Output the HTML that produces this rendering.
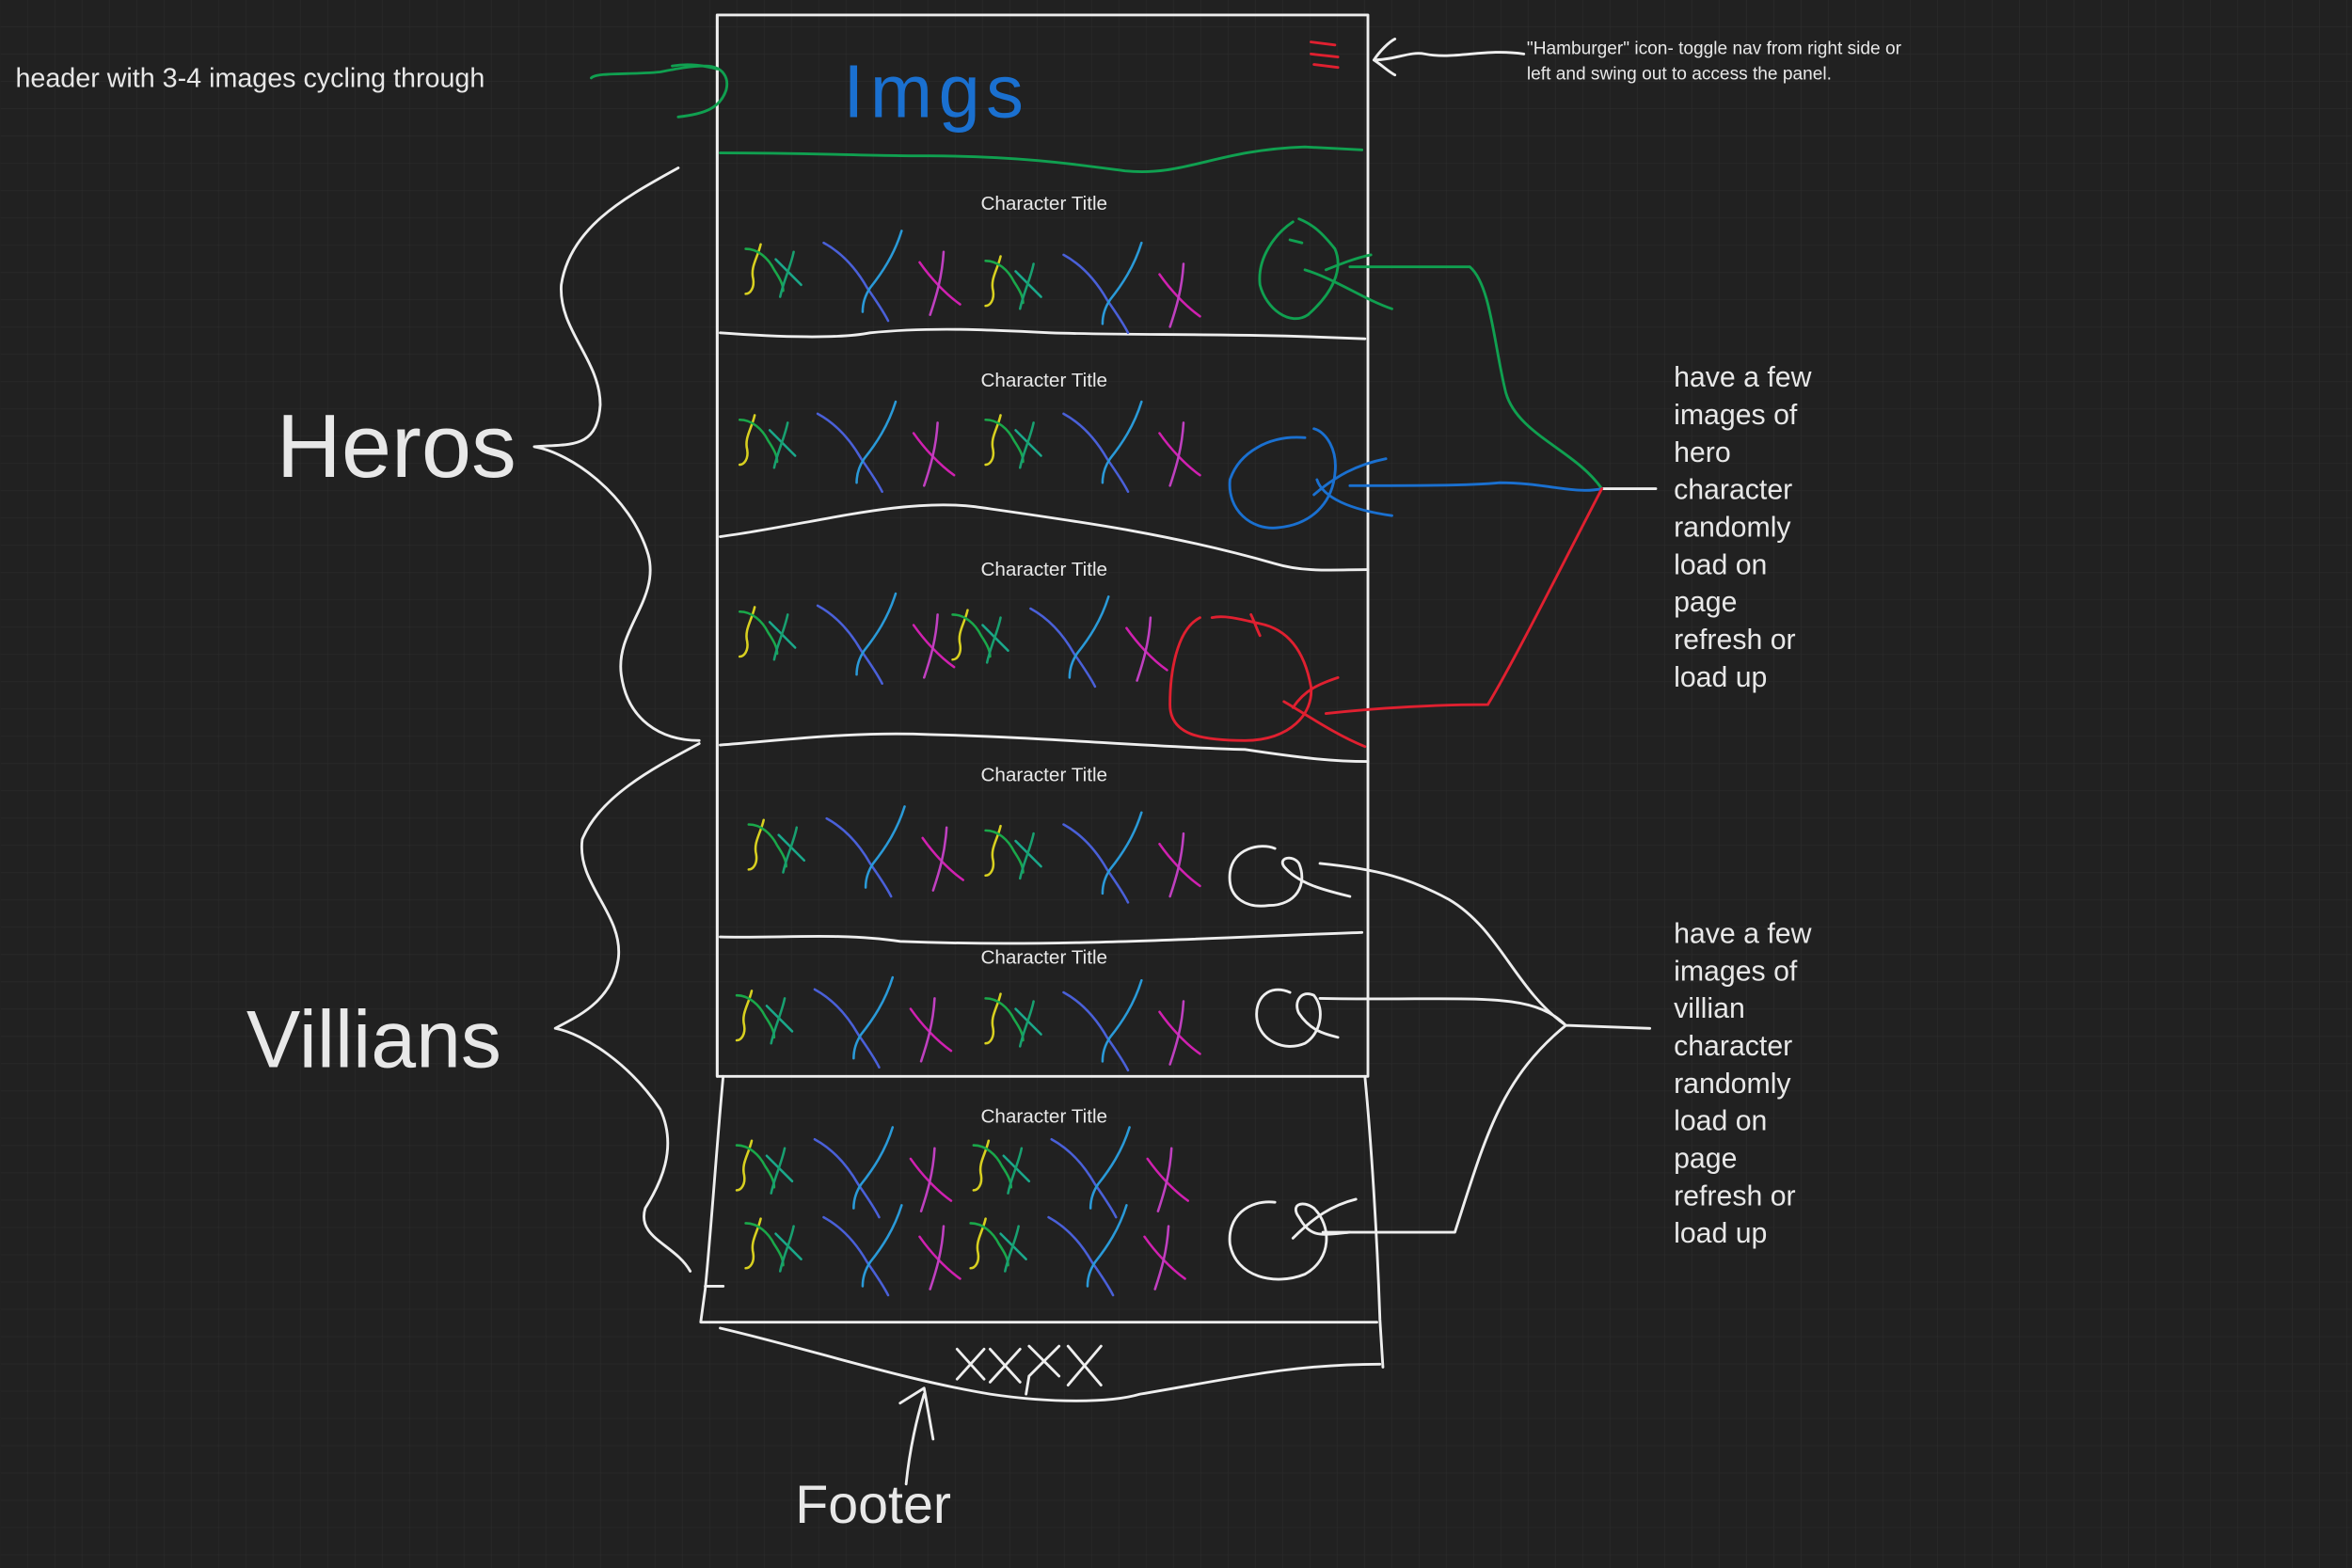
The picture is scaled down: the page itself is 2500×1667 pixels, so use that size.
<!DOCTYPE html>
<html><head><meta charset="utf-8"><style>
html,body{margin:0;padding:0;background:#212121;}
svg{display:block;}
text{font-family:"Liberation Sans",sans-serif;fill:#e8e8e8;}
</style></head><body>
<svg width="2500" height="1667" viewBox="0 0 1568 1046" xmlns="http://www.w3.org/2000/svg">
<defs>
<pattern id="grid" width="18.2" height="18.2" patternUnits="userSpaceOnUse">
<path d="M18.2 0V18.2H0" fill="none" stroke="#2b2b2b" stroke-width="0.8"/>
</pattern>
<g id="sq" fill="none" stroke-width="1.6" stroke-linecap="round">
<path d="M507,163 C505,172 500,178 502,186 C503,192 500,196 497,196" stroke="#d8d020"/>
<path d="M497,166 C505,166 512,172 516,180 C520,186 522,190 522,194" stroke="#1aa84a"/>
<path d="M517,173 C524,180 530,186 534,190" stroke="#1aa88a"/>
<path d="M529,168 C527,178 522,188 520,198" stroke="#18a070"/>
<path d="M549,162 C560,168 570,178 578,192 C585,202 590,210 592,214" stroke="#4a60d8"/>
<path d="M601,154 C596,170 588,182 580,192 C576,198 575,204 575,208" stroke="#2a9ad8"/>
<path d="M613,175 C620,185 630,196 640,203" stroke="#d020b0"/>
<path d="M629,168 C628,185 624,198 620,210" stroke="#c040c0"/>
</g>
</defs>
<rect width="1568" height="1046" fill="#212121"/>
<rect width="1568" height="1046" fill="url(#grid)"/>

<g fill="none" stroke="#eeeeee" stroke-width="1.8" stroke-linecap="round" stroke-linejoin="round">
<!-- main frame -->
<path d="M478,10 L912,10 L912,718 L478,718 Z"/>
<path d="M478,718 L478,10"/>
<!-- section dividers -->
<path d="M480,222 C520,225 560,226 580,222 C620,218 660,220 700,222 C760,224 820,222 910,226"/>
<path d="M480,358 C540,350 600,332 650,338 C720,348 780,356 850,376 C870,382 890,380 912,380"/>
<path d="M480,497 C530,493 570,488 620,490 C700,492 760,498 830,500 C870,506 890,508 912,508"/>
<path d="M480,625 C520,626 560,622 600,628 C700,632 800,626 908,622"/>
<!-- bottom extended section -->
<path d="M910,718 C914,760 918,820 920,880 L922,912"/>
<path d="M482,718 C478,760 474,820 470,860 L467,882 L918,882"/>
<path d="M470,858 L482,858"/>
<!-- footer -->
<path d="M480,886 C540,900 600,920 660,930 C700,936 740,936 760,930 C820,920 860,910 920,910"/>
<path d="M638,900 L656,920 M656,900 L638,920 M660,900 L680,922 M680,900 L660,922 M686,898 L706,918 M706,898 L686,918 M712,898 L734,924 M734,898 L712,924 M686,918 L684,930"/>
<path d="M604,990 C606,970 610,950 616,930 M600,936 L616,926 L622,960"/>
<!-- Heros brace -->
<path d="M452,112 C420,130 380,150 374,190 C372,220 400,240 400,270 C398,300 380,296 356,298 C380,302 420,330 432,370 C440,400 410,420 414,450 C418,480 440,494 466,494"/>
<!-- Villians brace -->
<path d="M466,496 C440,510 400,530 388,560 C384,590 416,610 412,640 C408,670 380,680 370,686 C390,690 420,710 440,740 C452,766 440,790 430,806 C424,826 450,830 460,848"/>
<!-- villain bottom brace -->
<path d="M1100,686 L1044,684 C1010,660 1000,620 966,600 C940,586 920,580 880,576 M1044,684 C1020,660 980,668 880,666 M1044,684 C1000,720 990,760 970,822 L882,822"/>
<!-- white scribbles villains -->
<path d="M850,566 C840,562 822,566 820,582 C818,600 832,606 846,604 C864,604 872,590 866,576 C862,570 852,572 856,578 C866,590 884,594 900,598"/>
<path d="M860,662 C846,656 836,666 838,680 C840,694 856,702 870,696 C880,690 884,674 876,664 C868,660 862,668 866,676 C874,688 884,690 892,692"/>
<path d="M850,802 C832,800 818,812 820,830 C824,852 850,858 870,850 C888,840 888,818 876,806 C868,800 860,804 866,812 C874,826 880,824 900,822 M862,826 C876,812 888,804 904,800"/>
<!-- hamburger arrow -->
<path d="M1016,36 C990,32 970,40 950,36 C940,34 930,40 916,40 M916,40 C920,34 926,28 930,26 M916,40 C922,44 926,48 930,50"/>
<path d="M1104,326 L1068,326"/>
</g>

<!-- green header lines -->
<g fill="none" stroke="#10a050" stroke-width="1.8" stroke-linecap="round">
<path d="M394,52 C398,48 420,50 440,48 C450,46 460,44 470,44 C482,44 486,52 484,60 C480,72 470,76 452,78 M448,44 C460,42 470,44 478,46"/>
<path d="M480,102 C540,102 580,104 620,104 C680,104 720,110 750,114 C790,118 810,100 870,98 L908,100"/>
<path d="M862,148 C850,156 838,172 840,190 C844,206 860,218 872,210 C888,196 896,180 890,166 C882,156 876,150 866,146 M860,160 L868,162 M884,180 C894,176 904,172 914,170 M870,180 C890,186 910,200 928,206 M900,178 C920,178 950,178 980,178 C994,190 996,230 1004,262 C1012,290 1050,300 1068,326"/>
</g>
<!-- blue -->
<g fill="none" stroke="#1a70d0" stroke-width="1.8" stroke-linecap="round">
<path d="M870,292 C846,290 826,302 820,320 C818,340 834,354 852,352 C874,350 888,336 890,316 C892,300 884,288 876,286 M878,320 C882,332 900,340 928,344 M876,330 C890,318 904,310 924,306 M900,324 C940,324 980,324 1000,322 C1030,322 1050,330 1068,326"/>
<text x="562" y="78" style="font-family:'Liberation Sans',sans-serif;font-size:50px;fill:#1a70d0;letter-spacing:4px;font-weight:300" fill="#1a70d0" stroke="none">Imgs</text>
</g>
<!-- red -->
<g fill="none" stroke="#e02030" stroke-width="1.8" stroke-linecap="round">
<path d="M800,412 C784,420 780,450 780,470 C780,490 800,494 830,494 C860,494 876,476 874,458 C870,436 860,420 840,416 C830,414 818,410 808,412 M834,410 C836,414 838,420 840,424 M856,468 C870,476 890,490 910,498 M862,472 C870,460 880,456 892,452 M884,476 C920,472 960,470 992,470 C1010,440 1040,380 1068,326"/>
<path d="M874,28 L890,30 M874,36 L892,38 M876,43 L892,45"/>
</g>

<!-- squiggle groups -->
<use href="#sq"/>
<use href="#sq" transform="translate(160,8)"/>
<use href="#sq" transform="translate(-4,114)"/>
<use href="#sq" transform="translate(160,114)"/>
<use href="#sq" transform="translate(-4,242)"/>
<use href="#sq" transform="translate(138,244)"/>
<use href="#sq" transform="translate(2,384)"/>
<use href="#sq" transform="translate(160,388)"/>
<use href="#sq" transform="translate(-6,498)"/>
<use href="#sq" transform="translate(160,500)"/>
<use href="#sq" transform="translate(-6,598)"/>
<use href="#sq" transform="translate(152,598)"/>
<use href="#sq" transform="translate(0,650)"/>
<use href="#sq" transform="translate(150,650)"/>

<!-- text -->
<g font-size="13" text-anchor="middle">
<text x="696" y="140">Character Title</text>
<text x="696" y="258">Character Title</text>
<text x="696" y="384">Character Title</text>
<text x="696" y="521">Character Title</text>
<text x="696" y="643">Character Title</text>
<text x="696" y="749">Character Title</text>
</g>
<text x="10" y="58" font-size="18">header with 3-4 images cycling through</text>
<text x="1018" y="36" font-size="12">"Hamburger" icon- toggle nav from right side or</text>
<text x="1018" y="53" font-size="12">left and swing out to access the panel.</text>
<text x="184" y="318" font-size="60">Heros</text>
<text x="164" y="712" font-size="54">Villians</text>
<text x="530" y="1016" font-size="36">Footer</text>
<g font-size="19">
<text x="1116" y="258">have a few</text>
<text x="1116" y="283">images of</text>
<text x="1116" y="308">hero</text>
<text x="1116" y="333">character</text>
<text x="1116" y="358">randomly</text>
<text x="1116" y="383">load on</text>
<text x="1116" y="408">page</text>
<text x="1116" y="433">refresh or</text>
<text x="1116" y="458">load up</text>
<text x="1116" y="629">have a few</text>
<text x="1116" y="654">images of</text>
<text x="1116" y="679">villian</text>
<text x="1116" y="704">character</text>
<text x="1116" y="729">randomly</text>
<text x="1116" y="754">load on</text>
<text x="1116" y="779">page</text>
<text x="1116" y="804">refresh or</text>
<text x="1116" y="829">load up</text>
</g>
</svg>
</body></html>
